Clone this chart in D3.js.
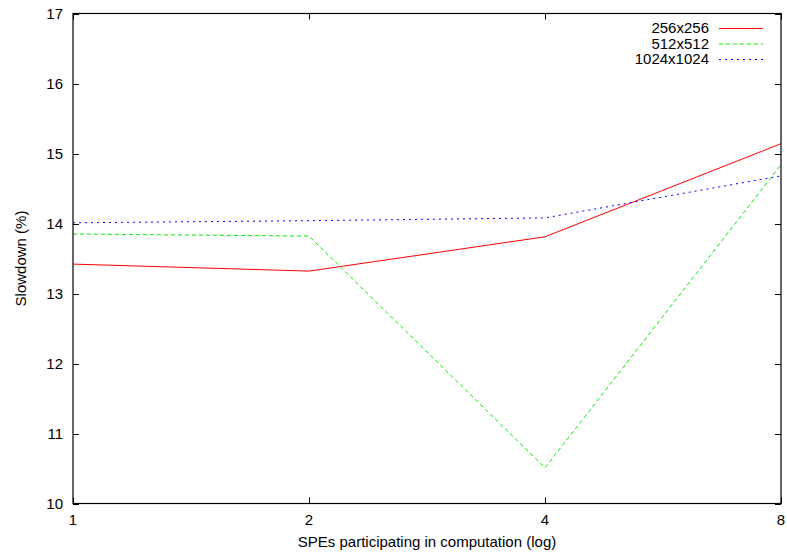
<!DOCTYPE html>
<html>
<head>
<meta charset="utf-8">
<script src="https://cdn.jsdelivr.net/npm/d3@7"></script>
<style>
  body { margin: 0; background: #fff; }
  svg text { font-family: "Liberation Sans", Arial, sans-serif; font-size: 15px; fill: #000; }
</style>
</head>
<body>
<svg id="chart" width="787" height="554"></svg>
<script>
// data
var spes = [1, 2, 4, 8];
var slow256 = [13.42, 13.32, 13.81, 15.14];
var slow512 = [13.85, 13.82, 10.51, 14.84];
var slow1024 = [14.01, 14.04, 14.08, 14.68];
var yTicks = [10, 11, 12, 13, 14, 15, 16, 17];
var seriesNames = ['256x256', '512x512', '1024x1024'];

var series = [
    {name: seriesNames[0], values: slow256, color: '#ff0000', dash: null},
    {name: seriesNames[1], values: slow512, color: '#00ee00', dash: '4,3'},
    {name: seriesNames[2], values: slow1024, color: '#0000ff', dash: '2,4'}
];

var svg = d3.select('#chart');
var margin = {top: 13.5, left: 73, bottom: 50.5, right: 6};
var width = 787, height = 554;

var x = d3.scaleLog().base(2)
    .domain([1, 8])
    .range([margin.left, width - margin.right]);
var y = d3.scaleLinear()
    .domain([10, 17])
    .range([height - margin.bottom, margin.top]);

var tickLen = 6;

// ticks, mirrored on all four sides
var g = svg.append('g').attr('stroke', '#000').attr('stroke-width', 1);
yTicks.forEach(function(t) {
    var yy = Math.round(y(t)) + 0.5;
    g.append('line').attr('x1', x(1)).attr('x2', x(1) + tickLen).attr('y1', yy).attr('y2', yy);
    g.append('line').attr('x1', x(8) - tickLen).attr('x2', x(8)).attr('y1', yy).attr('y2', yy);
});
spes.forEach(function(t) {
    var xx = Math.round(x(t)) + 0.5;
    g.append('line').attr('x1', xx).attr('x2', xx).attr('y1', y(10)).attr('y2', y(10) - tickLen);
    g.append('line').attr('x1', xx).attr('x2', xx).attr('y1', y(17)).attr('y2', y(17) + tickLen);
});

// tick labels
svg.append('g').selectAll('text')
    .data(yTicks)
  .enter().append('text')
    .attr('x', margin.left - 10)
    .attr('y', d => y(d))
    .attr('dy', '0.35em')
    .attr('text-anchor', 'end')
    .text(d => d);

svg.append('g').selectAll('text')
    .data(spes)
  .enter().append('text')
    .attr('x', d => x(d))
    .attr('y', y(10) + 21)
    .attr('text-anchor', 'middle')
    .text(d => d);

// axis titles
svg.append('text')
    .attr('x', (x(1) + x(8)) / 2)
    .attr('y', 547)
    .attr('text-anchor', 'middle')
    .text('SPEs participating in computation (log)');

svg.append('text')
    .attr('transform', 'translate(26,' + (y(13.5)) + ') rotate(-90)')
    .attr('text-anchor', 'middle')
    .text('Slowdown (%)');

// lines
var line = d3.line()
    .x((d, i) => x(spes[i]))
    .y(d => y(d));

svg.append('g').selectAll('path')
    .data(series)
  .enter().append('path')
    .attr('d', d => line(d.values))
    .attr('fill', 'none')
    .attr('stroke', d => d.color)
    .attr('stroke-width', 1)
    .attr('stroke-dasharray', d => d.dash);

// legend
var legend = svg.append('g').selectAll('g')
    .data(series)
  .enter().append('g')
    .attr('transform', (d, i) => 'translate(0,' + (28 + i * 15.5) + ')');

legend.append('text')
    .attr('x', 709)
    .attr('dy', '0.35em')
    .attr('text-anchor', 'end')
    .text(d => d.name);

legend.append('line')
    .attr('x1', 719).attr('x2', 763)
    .attr('y1', 0.5).attr('y2', 0.5)
    .attr('stroke', d => d.color)
    .attr('stroke-dasharray', d => d.dash);

// frame
svg.append('rect')
    .attr('x', x(1))
    .attr('y', y(17))
    .attr('width', x(8) - x(1))
    .attr('height', y(10) - y(17))
    .attr('fill', 'none')
    .attr('stroke', '#000')
    .attr('stroke-width', 1.2);
</script>
</body>
</html>
